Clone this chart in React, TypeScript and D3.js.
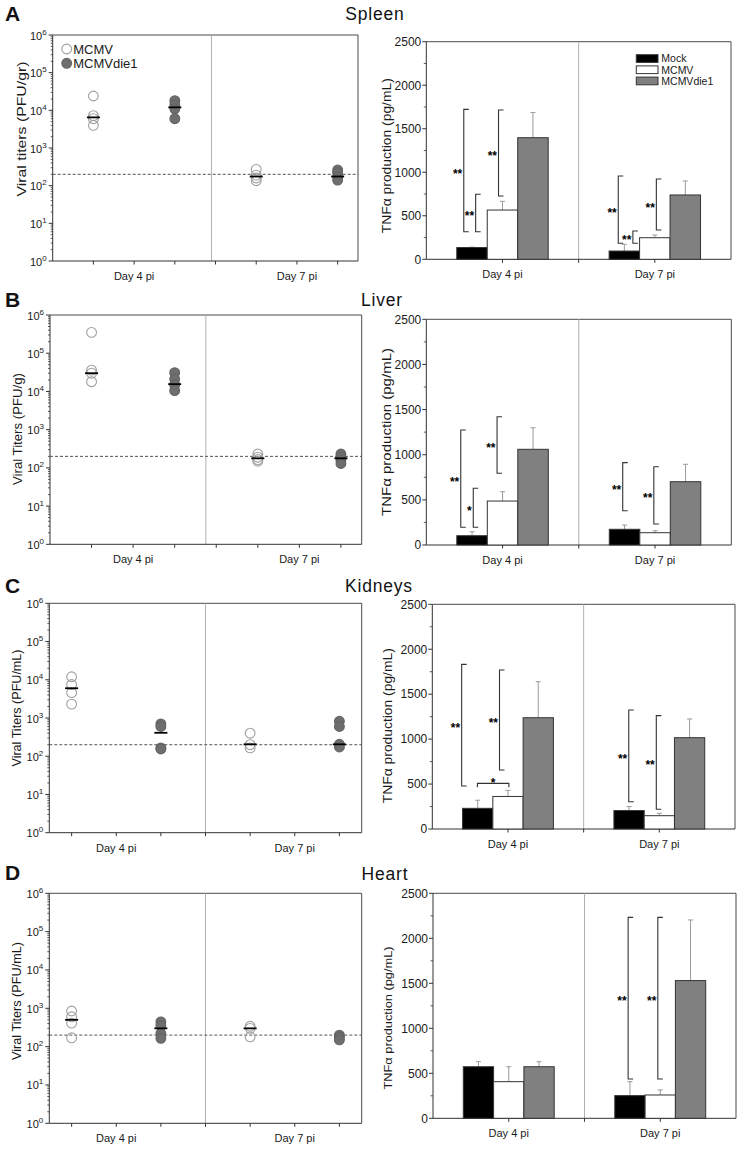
import React from "react";
import * as d3 from "d3";

const FONT = "'Liberation Sans', Arial, Helvetica, sans-serif";

const days = ["Day 4 pi", "Day 7 pi"];
const groups = ["Mock", "MCMV", "MCMVdie1"];
const titerSeries = ["MCMV", "MCMVdie1"];
const organs = ["Spleen", "Liver", "Kidneys", "Heart"];
const panelLetters = ["A", "B", "C", "D"];
const titerAxisLabels = [
  "Viral titers (PFU/gr)",
  "Viral Titers (PFU/g)",
  "Viral Titers (PFU/mL)",
  "Viral Titers (PFU/mL)",
];
const tnfAxisLabel = "TNFα production (pg/mL)";
const titerExponents = [0, 1, 2, 3, 4, 5, 6];
const tnfTicks = [0, 500, 1000, 1500, 2000, 2500];
const detectionLimit = 200;

// titer points: [MCMV day4, MCMVdie1 day4, MCMV day7, MCMVdie1 day7]
const spleenTiters = [
  [24000, 7200, 6000, 4000],
  [18000, 14000, 11000, 6000],
  [270, 190, 160, 135],
  [260, 220, 170, 140],
];
const spleenMedians = [6500, 12000, 175, 175];
const liverTiters = [
  [350000, 36000, 30000, 18000],
  [31000, 21000, 15000, 10500],
  [230, 190, 165, 150],
  [230, 190, 160, 130],
];
const liverMedians = [30000, 15500, 178, 178];
const kidneyTiters = [
  [12000, 7500, 4600, 2300],
  [700, 600, 165, 155],
  [400, 200, 165],
  [820, 600, 205, 175],
];
const kidneyMedians = [6000, 410, 205, 205];
const heartTiters = [
  [850, 600, 410, 170],
  [440, 350, 220, 165],
  [340, 300, 180],
  [200, 175, 150],
];
const heartMedians = [500, 300, 300, null];

// TNF bars: [day][Mock, MCMV, MCMVdie1]
const spleenTnf = [[135, 566, 1397], [95, 248, 739]];
const spleenTnfErr = [[5, 100, 290], [77, 31, 161]];
const liverTnf = [[103, 487, 1060], [174, 136, 701]];
const liverTnfErr = [[44, 103, 239], [47, 22, 193]];
const kidneyTnf = [[230, 362, 1238], [205, 148, 1016]];
const kidneyTnfErr = [[90, 67, 401], [45, 27, 208]];
const heartTnf = [[573, 407, 573], [252, 259, 1530]];
const heartTnfErr = [[56, 166, 56], [155, 56, 674]];

// significance brackets: day, offset (bar widths from group centre), value range, label
const spleenSig = [
  { day: 0, off: -1.27, from: 317, to: 1723, label: "**" },
  { day: 0, off: -0.88, from: 317, to: 747, label: "**" },
  { day: 0, off: -0.13, from: 727, to: 1715, label: "**" },
  { day: 1, off: -1.2, from: 184, to: 957, label: "**" },
  { day: 1, off: -0.72, from: 184, to: 325, label: "**" },
  { day: 1, off: 0.05, from: 337, to: 922, label: "**" },
];
const liverSig = [
  { day: 0, off: -1.37, from: 196, to: 1274, label: "**" },
  { day: 0, off: -0.96, from: 196, to: 628, label: "*" },
  { day: 0, off: -0.18, from: 794, to: 1421, label: "**" },
  { day: 1, off: -1.06, from: 380, to: 912, label: "**" },
  { day: 1, off: -0.04, from: 233, to: 867, label: "**" },
];
const kidneySig = [
  { day: 0, off: -1.53, from: 478, to: 1832, label: "**" },
  { day: 0, horizontal: true, off: -1.01, offEnd: 0.03, at: 508, label: "*" },
  { day: 0, off: -0.28, from: 656, to: 1769, label: "**" },
  { day: 1, off: -1.01, from: 304, to: 1324, label: "**" },
  { day: 1, off: -0.1, from: 219, to: 1261, label: "**" },
];
const heartSig = [
  { day: 1, off: -1.06, from: 437, to: 2233, label: "**" },
  { day: 1, off: -0.08, from: 437, to: 2233, label: "**" },
];

const titersByOrgan = [spleenTiters, liverTiters, kidneyTiters, heartTiters];
const mediansByOrgan = [spleenMedians, liverMedians, kidneyMedians, heartMedians];
const tnfByOrgan = [spleenTnf, liverTnf, kidneyTnf, heartTnf];
const tnfErrByOrgan = [spleenTnfErr, liverTnfErr, kidneyTnfErr, heartTnfErr];
const sigByOrgan = [spleenSig, liverSig, kidneySig, heartSig];

// ---------- layout (pixels) ----------
const leftLayout = [
  { x0: 52.7, y0: 35, x1: 358, y1: 261, xMin: 0, divider: 3.9, lab: { cx: 21.5, cy: 129, len: 135 } },
  { x0: 50, y0: 315, x1: 361.7, y1: 544.3, xMin: 0, divider: 3.75, lab: { cx: 18, cy: 429, len: 112 } },
  { x0: 49.3, y0: 603.3, x1: 361.7, y1: 832.7, xMin: 0.5, divider: 4, lab: { cx: 17, cy: 708, len: 117 } },
  { x0: 49.3, y0: 893.3, x1: 361.7, y1: 1123.3, xMin: 0.5, divider: 4, lab: { cx: 17, cy: 1001, len: 118 } },
];
const rightLayout = [
  { x0: 426.3, y0: 41.7, x1: 731, y1: 259.3, lab: { cx: 387, cy: 155.7, len: 155, fs: 12.5 } },
  { x0: 426.3, y0: 319.3, x1: 731.3, y1: 545, lab: { cx: 386.3, cy: 432, len: 168, fs: 12.5 } },
  { x0: 432.3, y0: 604.3, x1: 735, y1: 829, lab: { cx: 388, cy: 725.7, len: 155, fs: 12.5 } },
  { x0: 433, y0: 893.3, x1: 736, y1: 1118.3, lab: { cx: 388, cy: 1018, len: 143, fs: 11.5 } },
];
const titleLayout = [
  { x: 375, y: 20, lx: 5, ly: 20.7 },
  { x: 382, y: 306, lx: 5, ly: 306.7 },
  { x: 379, y: 592, lx: 5, ly: 593 },
  { x: 385, y: 880, lx: 5, ly: 880 },
];

const AXIS = "#333";
const FRAME = "#4a4a4a";
const DIVIDER = "#b0b0b0";
const GREY_FILL = "#808080";
const DOT_FILL = "#6e6e6e";
const OPEN_STROKE = "#a0a0a0";
const ERR = "#9a9a9a";
const TXT = "#1a1a1a";

const xPositions = [1, 3, 5, 7]; // MCMV d4, die1 d4, MCMV d7, die1 d7
const dayLabelPos = [2, 6];

function TiterPanel({ i }: { i: number }) {
  const L = leftLayout[i];
  const x = d3.scaleLinear().domain([L.xMin, 7.5]).range([L.x0, L.x1]);
  const y = d3.scaleLog().domain([1, 1e6]).range([L.y1, L.y0]);
  const titers = titersByOrgan[i];
  const medians = mediansByOrgan[i];
  const minor: number[] = [];
  for (let e = 0; e < 6; e++) for (let k = 2; k <= 9; k++) minor.push(k * Math.pow(10, e));
  return (
    <g>
      <line x1={L.x0} x2={L.x1} y1={L.y0} y2={L.y0} stroke={FRAME} strokeWidth={1} />
      <line x1={L.x1} x2={L.x1} y1={L.y0} y2={L.y1} stroke={FRAME} strokeWidth={1} />
      <line x1={x(L.divider)} x2={x(L.divider)} y1={L.y0} y2={L.y1} stroke={DIVIDER} strokeWidth={1} />
      <line x1={L.x0} x2={L.x0} y1={L.y0} y2={L.y1} stroke={AXIS} strokeWidth={1} />
      <line x1={L.x0} x2={L.x1} y1={L.y1} y2={L.y1} stroke={AXIS} strokeWidth={1} />
      {minor.map((m, k) => (
        <line key={"mn" + k} x1={L.x0 - 2} x2={L.x0} y1={y(m)} y2={y(m)} stroke={AXIS} strokeWidth={0.8} />
      ))}
      {titerExponents.map((e) => (
        <g key={"t" + e}>
          <line x1={L.x0 - 4} x2={L.x0} y1={y(Math.pow(10, e))} y2={y(Math.pow(10, e))} stroke={AXIS} />
          <text x={L.x0 - 6} y={y(Math.pow(10, e)) + 4.5} textAnchor="end" fontSize={11} fill={TXT} fontFamily={FONT}>
            10<tspan dy={-5} fontSize={8}>{e}</tspan>
          </text>
        </g>
      ))}
      {[1, 2, 3, 4, 5, 6, 7].map((t) => (
        <line key={"xt" + t} x1={x(t)} x2={x(t)} y1={L.y1} y2={L.y1 + 3.5} stroke={AXIS} />
      ))}
      {days.map((d, k) => (
        <text key={d} x={x(dayLabelPos[k])} y={L.y1 + 19} textAnchor="middle" fontSize={11} fill={TXT} fontFamily={FONT}>
          {d}
        </text>
      ))}
      <line x1={L.x0} x2={L.x1} y1={y(detectionLimit)} y2={y(detectionLimit)} stroke="#555" strokeWidth={1} strokeDasharray="3,2" />
      {titers.map((pts, g) =>
        pts.map((v, k) => (
          <circle
            key={g + "-" + k}
            cx={x(xPositions[g])}
            cy={y(v)}
            r={4.9}
            fill={g % 2 === 1 ? DOT_FILL : "none"}
            stroke={g % 2 === 1 ? "#646464" : OPEN_STROKE}
            strokeWidth={1.1}
          />
        ))
      )}
      {medians.map((m, g) =>
        m == null ? null : (
          <line key={"md" + g} x1={x(xPositions[g]) - 6.5} x2={x(xPositions[g]) + 6.5} y1={y(m)} y2={y(m)} stroke="#000" strokeWidth={1.8} />
        )
      )}
      {i === 0 && (
        <g fontFamily={FONT}>
          {titerSeries.map((s, k) => (
            <g key={s}>
              <circle
                cx={L.x0 + 14}
                cy={L.y0 + 14 + k * 14.3}
                r={4.9}
                fill={k === 1 ? DOT_FILL : "none"}
                stroke={k === 1 ? "#646464" : OPEN_STROKE}
                strokeWidth={1.1}
              />
              <text x={L.x0 + 20.5} y={L.y0 + 14 + k * 14.3 + 4.7} fontSize={13} fill={TXT}>
                {s}
              </text>
            </g>
          ))}
        </g>
      )}
      <text
        transform={`translate(${L.lab.cx},${L.lab.cy}) rotate(-90)`}
        textAnchor="middle"
        dy="0.35em"
        fontSize={12.5}
        fill={TXT}
        fontFamily={FONT}
        textLength={L.lab.len}
        lengthAdjust="spacingAndGlyphs"
      >
        {titerAxisLabels[i]}
      </text>
    </g>
  );
}

function TnfPanel({ i }: { i: number }) {
  const L = rightLayout[i];
  const w = L.x1 - L.x0;
  const xDay = d3.scaleBand().domain(days).range([L.x0, L.x1]);
  const barW = xDay.bandwidth() * 0.2;
  const xGroup = d3.scaleBand().domain(groups).range([-1.5 * barW, 1.5 * barW]);
  const y = d3.scaleLinear().domain([0, 2500]).range([L.y1, L.y0]);
  const centre = (d: number) => (xDay(days[d]) as number) + xDay.bandwidth() / 2;
  const fills = ["#000", "#fff", GREY_FILL];
  const vals = tnfByOrgan[i];
  const errs = tnfErrByOrgan[i];
  const minor = d3.range(250, 2500, 500);
  const divX = L.x0 + w / 2;
  return (
    <g>
      <line x1={L.x0} x2={L.x1} y1={L.y0} y2={L.y0} stroke={FRAME} />
      <line x1={L.x1} x2={L.x1} y1={L.y0} y2={L.y1} stroke={FRAME} />
      <line x1={divX} x2={divX} y1={L.y0} y2={L.y1} stroke={DIVIDER} />
      <line x1={L.x0} x2={L.x0} y1={L.y0} y2={L.y1} stroke={AXIS} />
      <line x1={L.x0} x2={L.x1} y1={L.y1} y2={L.y1} stroke={AXIS} />
      {minor.map((m) => (
        <line key={"m" + m} x1={L.x0 - 2.5} x2={L.x0} y1={y(m)} y2={y(m)} stroke={AXIS} strokeWidth={0.8} />
      ))}
      {tnfTicks.map((t) => (
        <g key={"t" + t}>
          <line x1={L.x0 - 4} x2={L.x0} y1={y(t)} y2={y(t)} stroke={AXIS} />
          <text x={L.x0 - 5} y={y(t) + 4.3} textAnchor="end" fontSize={12} fill={TXT} fontFamily={FONT}>
            {t}
          </text>
        </g>
      ))}
      {[centre(0), divX, centre(1)].map((xx, k) => (
        <line key={"xt" + k} x1={xx} x2={xx} y1={L.y1} y2={L.y1 + 3.5} stroke={AXIS} />
      ))}
      {days.map((d, k) => (
        <text key={d} x={centre(k)} y={L.y1 + 19} textAnchor="middle" fontSize={11} fill={TXT} fontFamily={FONT}>
          {d}
        </text>
      ))}
      {vals.map((row, d) =>
        row.map((v, g) => {
          const cx = centre(d) + (xGroup(groups[g]) as number) + barW / 2;
          const top = y(v + errs[d][g]);
          return (
            <g key={"e" + d + g}>
              <line x1={cx} x2={cx} y1={y(v)} y2={top} stroke={ERR} strokeWidth={1} />
              <line x1={cx - 2.5} x2={cx + 2.5} y1={top} y2={top} stroke={ERR} strokeWidth={1} />
            </g>
          );
        })
      )}
      {vals.map((row, d) =>
        row.map((v, g) => (
          <rect
            key={"b" + d + g}
            x={centre(d) + (xGroup(groups[g]) as number)}
            y={y(v)}
            width={barW}
            height={L.y1 - y(v)}
            fill={fills[g]}
            stroke="#333"
            strokeWidth={1}
          />
        ))
      )}
      {sigByOrgan[i].map((s: any, k: number) => {
        if (s.horizontal) {
          const xa = centre(s.day) + s.off * barW;
          const xb = centre(s.day) + s.offEnd * barW;
          const yy = y(s.at);
          return (
            <g key={"s" + k}>
              <path d={`M${xa},${yy + 4}V${yy}H${xb}V${yy + 4}`} fill="none" stroke="#333" strokeWidth={1.1} />
              <text x={(xa + xb) / 2} y={yy + 4} textAnchor="middle" fontSize={12} fontWeight="bold" fill="#000" fontFamily={FONT}>
                {s.label}
              </text>
            </g>
          );
        }
        const xx = centre(s.day) + s.off * barW;
        const ya = y(s.from);
        const yb = y(s.to);
        return (
          <g key={"s" + k}>
            <path d={`M${xx + 5},${yb}H${xx}V${ya}H${xx + 5}`} fill="none" stroke="#333" strokeWidth={1.1} />
            <text x={xx - 1.5} y={(ya + yb) / 2 + 7} textAnchor="end" fontSize={12} fontWeight="bold" fill="#000" fontFamily={FONT}>
              {s.label}
            </text>
          </g>
        );
      })}
      {i === 0 && (
        <g fontFamily={FONT}>
          {groups.map((gname, k) => (
            <g key={gname}>
              <rect x={L.x1 - 94.7} y={L.y0 + 13 + k * 11.2} width={21.7} height={7.7} fill={fills[k]} stroke="#333" />
              <text x={L.x1 - 69.7} y={L.y0 + 20.6 + k * 11.2} fontSize={10.5} fill={TXT}>
                {gname}
              </text>
            </g>
          ))}
        </g>
      )}
      <text
        transform={`translate(${L.lab.cx},${L.lab.cy}) rotate(-90)`}
        textAnchor="middle"
        dy="0.35em"
        fontSize={L.lab.fs}
        fill={TXT}
        fontFamily={FONT}
        textLength={L.lab.len}
        lengthAdjust="spacingAndGlyphs"
      >
        {tnfAxisLabel}
      </text>
    </g>
  );
}

export default function App() {
  return (
    <svg
      width={746}
      height={1150}
      style={{ position: "absolute", left: 0, top: 0, background: "#fff" }}
      fontFamily={FONT}
    >
      <rect x={0} y={0} width={746} height={1150} fill="#fff" />
      {organs.map((o, i) => (
        <g key={o}>
          <text x={titleLayout[i].x} y={titleLayout[i].y} textAnchor="middle" fontSize={17.5} letterSpacing={0.8} fill="#111">
            {o}
          </text>
          <text x={titleLayout[i].lx} y={titleLayout[i].ly} fontSize={21} fontWeight="bold" fill="#111">
            {panelLetters[i]}
          </text>
          <TiterPanel i={i} />
          <TnfPanel i={i} />
        </g>
      ))}
    </svg>
  );
}
